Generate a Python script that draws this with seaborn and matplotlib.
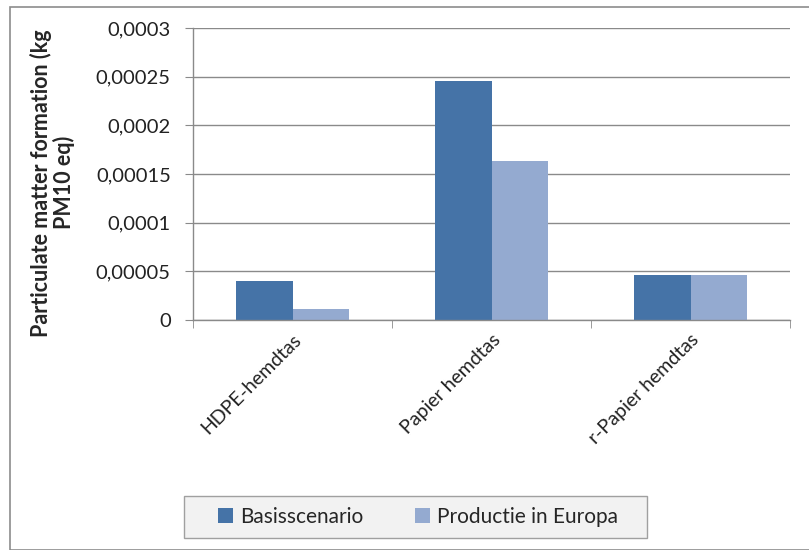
import matplotlib
matplotlib.use("Agg")
import matplotlib.pyplot as plt
import matplotlib.ticker as mticker
from matplotlib.patches import Rectangle
import seaborn as sns
import pandas as pd

# data
categories = ['HDPE-hemdtas', 'Papier hemdtas', 'r-Papier hemdtas']
series_names = ['Basisscenario', 'Productie in Europa']
basisscenario = [0.0000398, 0.0002455, 0.0000464]
productie_europa = [0.0000110, 0.0001631, 0.0000464]
y_ticks = [0, 0.00005, 0.0001, 0.00015, 0.0002, 0.00025, 0.0003]

colors = ['#4573a7', '#94aad0']

df = pd.DataFrame({
    'Categorie': categories * 2,
    'Scenario': [series_names[0]] * 3 + [series_names[1]] * 3,
    'Waarde': basisscenario + productie_europa,
})

sns.set_style('white')
plt.rcParams['font.family'] = ['Lato', 'DejaVu Sans']

fig = plt.figure(figsize=(8.09, 5.5), dpi=100)
ax = fig.add_axes([193 / 809, 1 - 320 / 550, 597 / 809, 292 / 550])

# outer chart frame
fig.patches.append(Rectangle((10 / 809, 0), 1.2, 1 - 7 / 550, transform=fig.transFigure,
                             fill=False, edgecolor='#8c8c8c', linewidth=1.2))
# legend box (Excel style, wider than the entries)
fig.patches.append(Rectangle((184 / 809, 1 - 538 / 550), 463 / 809, 42 / 550,
                             transform=fig.transFigure, facecolor='#f2f2f2',
                             edgecolor='#a0a0a0', linewidth=1, zorder=-1))

sns.barplot(data=df, x='Categorie', y='Waarde', hue='Scenario', palette=colors,
            width=0.57, ax=ax, linewidth=0, saturation=1, legend=True)

ax.set_ylim(0, 0.0003)
ax.set_xlim(-0.5, 2.5)
ax.set_yticks(y_ticks)
ax.yaxis.set_major_formatter(mticker.FuncFormatter(
    lambda v, p: (f"{v:.5f}".rstrip('0').rstrip('.')).replace('.', ',')))
ax.grid(axis='y', color='#8a8a8a', linewidth=1)
ax.set_axisbelow(True)

for s in ['top', 'right']:
    ax.spines[s].set_visible(False)
for s in ['left', 'bottom']:
    ax.spines[s].set_color('#8a8a8a')
    ax.spines[s].set_linewidth(1)

ax.tick_params(axis='y', which='major', direction='out', length=6, color='#8a8a8a',
               labelsize=14.5, pad=10, left=True, labelcolor='#222222')
ax.tick_params(axis='x', which='major', length=0, labelsize=14, pad=8, labelcolor='#222222')
ax.set_xticks([-0.5, 0.5, 1.5, 2.5], minor=True)
ax.tick_params(axis='x', which='minor', direction='out', length=6, color='#8a8a8a', bottom=True)
for lbl in ax.get_xticklabels():
    lbl.set_rotation(45)
    lbl.set_ha('right')
    lbl.set_rotation_mode('anchor')

ax.set_xlabel('')
ax.set_ylabel('Particulate matter formation (kg\nPM10 eq)', fontsize=15.5,
              fontweight='bold', linespacing=1.05)
ax.yaxis.set_label_coords(-0.198, 0.47)

ax.legend(loc='center', bbox_to_anchor=(418 / 809, 1 - 517 / 550),
          bbox_transform=fig.transFigure, ncol=2, frameon=False, fontsize=15,
          handlelength=0.7, handleheight=0.7, handletextpad=0.35, columnspacing=2.5,
          borderpad=0.3, borderaxespad=0)

plt.savefig('out.png', dpi=100)
